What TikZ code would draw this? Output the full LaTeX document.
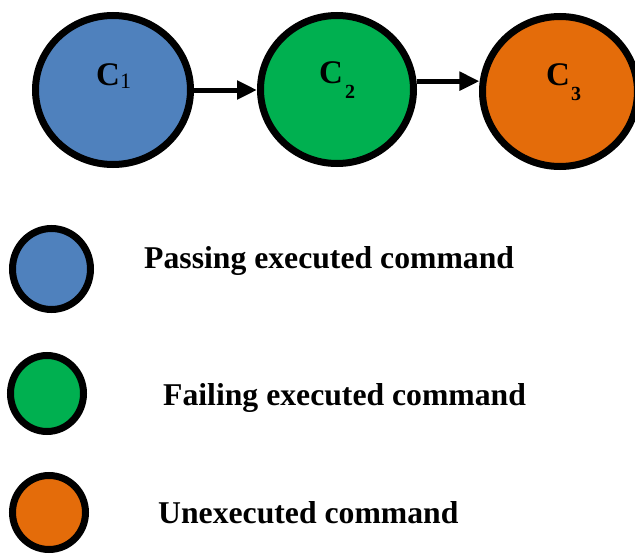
\documentclass[tikz,border=0pt]{standalone}
\usepackage{fontspec}
\setmainfont{Liberation Serif}
\usetikzlibrary{arrows.meta,shapes.geometric}

\definecolor{passblue}{HTML}{4F81BD}
\definecolor{failgreen}{HTML}{00B050}
\definecolor{unexorange}{HTML}{E46C0A}

\tikzset{
  cmd/.style={ellipse, draw=black, line width=7pt, inner sep=0pt},
  flow/.style={line width=5pt, -{Triangle[length=20pt,width=18pt]}},
  clabel/.style={anchor=base west, inner sep=0pt, font=\fontsize{33}{33}\selectfont\bfseries},
  legtext/.style={anchor=base west, inner sep=0pt, font=\fontsize{31.7}{32}\selectfont\bfseries}
}

\begin{document}
\begin{tikzpicture}[x=1pt, y=-1pt]
  \useasboundingbox (0,0) rectangle (635,554);
  \clip (0,0) rectangle (635,554);

  % command chain
  \node[cmd, fill=passblue,   minimum width=155pt, minimum height=149pt] (c1) at (113,90) {};
  \node[cmd, fill=failgreen,  minimum width=153pt, minimum height=148pt] (c2) at (337,89.5) {};
  \node[cmd, fill=unexorange, minimum width=155pt, minimum height=150pt] (c3) at (560,91.5) {};

  \node[clabel] (c1lbl) at (96,85) {C\raisebox{-3pt}{\fontsize{22}{22}\selectfont\mdseries 1}};
  \node[clabel] (c2lbl) at (319,83) {C\hspace{2pt}\raisebox{-15pt}{\fontsize{20}{20}\selectfont 2}};
  \node[clabel] (c3lbl) at (546,85) {C\hspace{1pt}\raisebox{-15pt}{\fontsize{20}{20}\selectfont 3}};

  \draw[flow] (c1.east) -- (c1.east -| c2.west);
  \draw[flow] (c2.6) -- (c2.6 -| c3.174);

  % legend
  \node[cmd, fill=passblue,   minimum width=78pt, minimum height=81pt] (lpass) at (51.5,269) {};
  \node[cmd, fill=failgreen,  minimum width=73pt, minimum height=76pt] (lfail) at (47,393.5) {};
  \node[cmd, fill=unexorange, minimum width=73pt, minimum height=74pt] (lunex) at (49,512.5) {};

  \node[legtext] (tpass) at (144,268) {Passing executed command};
  \node[legtext] (tfail) at (163,405) {Failing executed command};
  \node[legtext] (tunex) at (158,523) {Unexecuted command};
\end{tikzpicture}
\end{document}
